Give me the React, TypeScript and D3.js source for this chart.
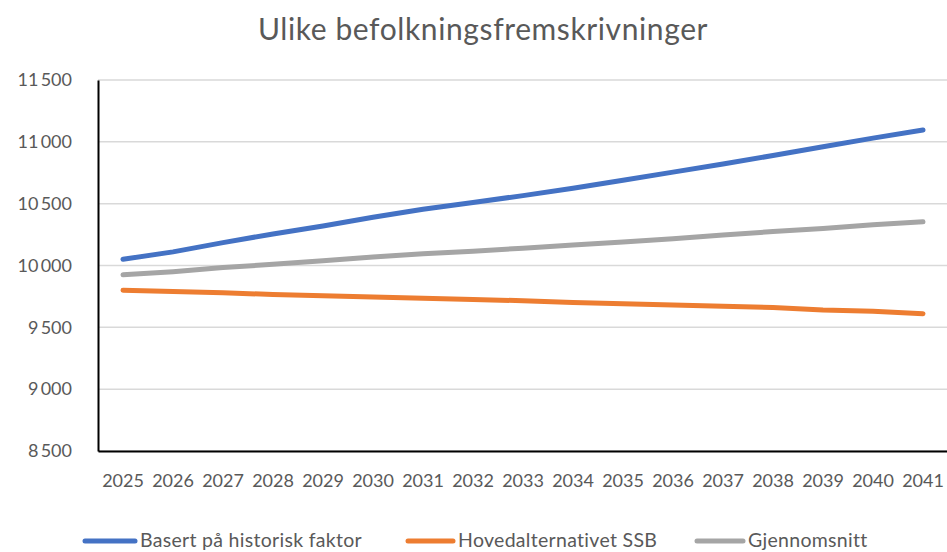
import * as d3 from 'd3'
import { useEffect, useRef } from 'react'

const years = ['2025', '2026', '2027', '2028', '2029', '2030', '2031', '2032', '2033', '2034', '2035', '2036', '2037', '2038', '2039', '2040', '2041']
const historisk = [10050, 10110, 10185, 10255, 10320, 10390, 10455, 10510, 10565, 10625, 10690, 10755, 10820, 10890, 10960, 11030, 11096]
const ssb = [9800, 9790, 9780, 9765, 9755, 9745, 9735, 9725, 9715, 9700, 9690, 9680, 9670, 9660, 9640, 9630, 9610]
const snitt = [9925, 9950, 9983, 10010, 10038, 10068, 10095, 10115, 10140, 10165, 10190, 10216, 10246, 10275, 10300, 10329, 10353]
const yTicks = [8500, 9000, 9500, 10000, 10500, 11000, 11500]

const seriesNames = ['Basert på historisk faktor', 'Hovedalternativet SSB', 'Gjennomsnitt']
const seriesColors = ['#4472C4', '#ED7D31', '#A5A5A5']

export default function App() {
    const ref = useRef<SVGSVGElement>(null)

    useEffect(() => {
        const svg = d3.select(ref.current)
        svg.selectAll('*').remove()
        const width = 947
        const height = 552
        const margin = { top: 80, right: -1, bottom: 101, left: 98 }
        const font = 'Lato, "Open Sans", sans-serif'
        const textColor = '#595959'

        const x = d3.scaleBand()
            .domain(years)
            .range([margin.left, width - margin.right])
        const y = d3.scaleLinear()
            .domain([8500, 11500])
            .range([height - margin.bottom, margin.top])

        // title
        svg.append('text')
            .attr('x', 483)
            .attr('y', 40)
            .attr('text-anchor', 'middle')
            .attr('font-family', font)
            .attr('font-size', 30)
            .attr('letter-spacing', 0.6)
            .attr('fill', textColor)
            .text('Ulike befolkningsfremskrivninger')

        // gridlines
        svg.append('g')
            .selectAll('line')
            .data(yTicks)
            .join('line')
            .attr('x1', margin.left)
            .attr('x2', width)
            .attr('y1', d => y(d))
            .attr('y2', d => y(d))
            .attr('stroke', '#d9d9d9')
            .attr('stroke-width', 1.5)

        const fmt = (d: number) => d3.format(',')(d).replace(',', '\u2009')

        const yAxis = svg.append('g')
            .attr('transform', `translate(${margin.left},0)`)
            .call(d3.axisLeft(y).tickValues(yTicks).tickSize(0).tickPadding(26).tickFormat(d => fmt(+d)))
        yAxis.select('.domain').attr('stroke', '#000').attr('stroke-width', 2)
        yAxis.selectAll('text')
            .attr('font-family', font)
            .attr('font-size', 18)
            .attr('fill', textColor)

        const xAxis = svg.append('g')
            .attr('transform', `translate(0,${height - margin.bottom})`)
            .call(d3.axisBottom(x).tickSize(0).tickPadding(23).tickSizeOuter(0))
        xAxis.select('.domain').attr('stroke', '#000').attr('stroke-width', 2)
        xAxis.selectAll('text')
            .attr('font-family', font)
            .attr('font-size', 18)
            .attr('fill', textColor)

        const all = [historisk, ssb, snitt]
        const line = d3.line<number>()
            .x((_, i) => (x(years[i]) ?? 0) + x.bandwidth() / 2)
            .y(d => y(d))

        svg.append('g')
            .selectAll('path')
            .data(all)
            .join('path')
            .attr('d', d => line(d))
            .attr('fill', 'none')
            .attr('stroke', (_, i) => seriesColors[i])
            .attr('stroke-width', 5)
            .attr('stroke-linecap', 'round')
            .attr('stroke-linejoin', 'round')

        // legend (cut at the bottom edge in the original, kept just inside here)
        const legendX = [85, 408, 697]
        const legendLen = [50, 45, 46]
        const legend = svg.append('g')
            .selectAll('g')
            .data(seriesNames)
            .join('g')
            .attr('transform', (_, i) => `translate(${legendX[i]},541)`)
        legend.append('line')
            .attr('x1', 0)
            .attr('x2', (_, i) => legendLen[i])
            .attr('stroke', (_, i) => seriesColors[i])
            .attr('stroke-width', 5)
            .attr('stroke-linecap', 'round')
        legend.append('text')
            .attr('x', (_, i) => legendLen[i] + 5)
            .attr('y', 6)
            .attr('font-family', font)
            .attr('font-size', 19.5)
            .attr('letter-spacing', 0.3)
            .attr('fill', textColor)
            .text(d => d)
    }, [])

    return (
        <svg ref={ref} width={947} height={552}
            style={{ position: 'absolute', left: 0, top: 0, background: '#fff' }} />
    )
}
